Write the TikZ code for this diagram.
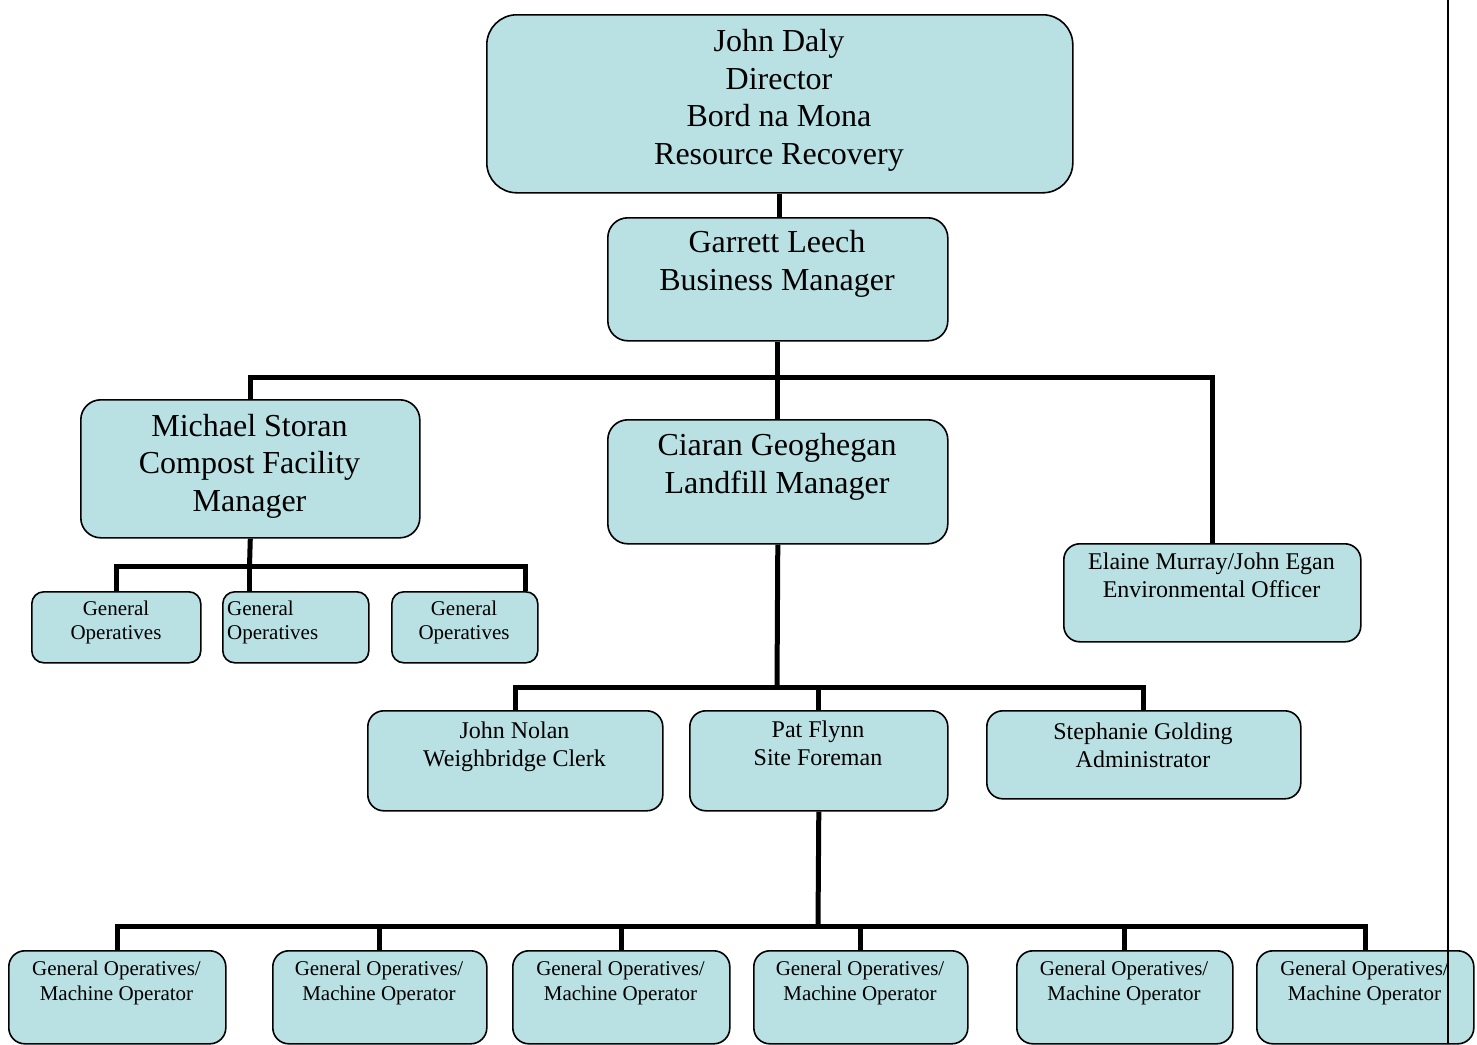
\documentclass[tikz,border=0pt]{standalone}
\usepackage{fontspec}
\setmainfont{Liberation Serif}
\usepackage{tikz}
\usetikzlibrary{positioning,calc}
\definecolor{boxfill}{RGB}{185,224,227}

\begin{document}
\begin{tikzpicture}[x=1pt, y=-1pt,
  unit/.style={draw, line width=1.6pt, fill=boxfill, rounded corners=#1, anchor=north west, inner sep=0pt},
  txtbig/.style={font=\fontsize{32}{37.5}\selectfont, align=center, inner sep=0pt},
  txtmid/.style={font=\fontsize{24}{28}\selectfont, align=center, inner sep=0pt},
  txtsmall/.style={font=\fontsize{21}{24.5}\selectfont, align=center, inner sep=0pt},
  wire/.style={line width=5pt},
]
\useasboundingbox (0,0) rectangle (1477,1044);

% Director and business manager
\node[unit=30pt, minimum width=586pt, minimum height=178pt] (daly) at (486,14) {};
\node[txtbig] (dalyT) at (779,100.5) {John Daly\\Director\\Bord na Mona\\Resource Recovery};
\node[unit=20pt, minimum width=340pt, minimum height=123pt] (leech) at (607,217) {};
\node[txtbig] (leechT) at (777,264) {Garrett Leech\\Business Manager};

% Managers
\node[unit=20pt, minimum width=339pt, minimum height=138pt] (storan) at (80,399) {};
\node[txtbig] (storanT) at (249.5,466) {Michael Storan\\Compost Facility\\Manager};
\node[unit=20pt, minimum width=340pt, minimum height=124pt] (geoghegan) at (607,419) {};
\node[txtbig] (geogheganT) at (777,467) {Ciaran Geoghegan\\Landfill Manager};
\node[unit=16pt, minimum width=297pt, minimum height=98pt] (murray) at (1063,543) {};
\node[txtmid] (murrayT) at (1211.5,575) {Elaine Murray/John Egan\\Environmental Officer};

% Compost facility staff
\node[unit=12pt, minimum width=169pt, minimum height=71pt] (go1) at (31,591) {};
\node[txtsmall] (go1T) at (116,622.5) {General\\Operatives};
\node[unit=12pt, minimum width=146pt, minimum height=71pt] (go2) at (222,591) {};
\node[txtsmall, anchor=west, align=left] (go2T) at (227,622.5) {General\\Operatives};
\node[unit=12pt, minimum width=146pt, minimum height=71pt] (go3) at (391,591) {};
\node[txtsmall] (go3T) at (464,622.5) {General\\Operatives};

% Landfill staff
\node[unit=16pt, minimum width=295pt, minimum height=100pt] (nolan) at (367,710) {};
\node[txtmid] (nolanT) at (514.5,746.5) {John Nolan\\Weighbridge Clerk};
\node[unit=16pt, minimum width=258pt, minimum height=100pt] (flynn) at (689,710) {};
\node[txtmid] (flynnT) at (818,743) {Pat Flynn\\Site Foreman};
\node[unit=16pt, minimum width=314pt, minimum height=88pt] (golding) at (986,710) {};
\node[txtmid] (goldingT) at (1143,745.5) {Stephanie Golding\\Administrator};

% Site operatives
\foreach \xa/\xb [count=\i] in {8/225, 272/486, 512/729, 753/967, 1016/1232, 1256/1473} {
  \node[unit=16pt, minimum width={(\xb-\xa)*1pt}, minimum height=93pt] (op\i) at (\xa,950) {};
  \node[txtsmall] (op\i T) at ({(\xa+\xb)/2},983) {General Operatives/\\Machine Operator};
}

% Connectors
\coordinate (busA) at (778,377);
\coordinate (busB) at (249.5,566);
\coordinate (busC) at (777,687);
\coordinate (busD) at (818,926);

\draw[wire] (daly.south) -- (daly.south |- leech.north);
\draw[wire] (leech.south) -- (geoghegan.north);
\draw[wire] (storan.north) |- (busA) -| (murray.north);

\draw[wire] (storan.south) -- (busB);
\draw[wire] (go1.north) |- (busB) -| ([xshift=-13pt]go3.north east);
\draw[wire] (busB) -- (busB |- go2.north);

\draw[wire] (geoghegan.south) -- (busC);
\draw[wire] (nolan.north) |- (busC) -| (golding.north);
\draw[wire] (flynn.north) -- (flynn.north |- busC);

\draw[wire] (flynn.south) -- (busD);
\foreach \i in {1,...,6} {
  \draw[wire] (op\i.north) |- (busD);
}

% page rule
\draw[line width=1.8pt] (1448,0) -- (1448,1044);
\end{tikzpicture}
\end{document}
